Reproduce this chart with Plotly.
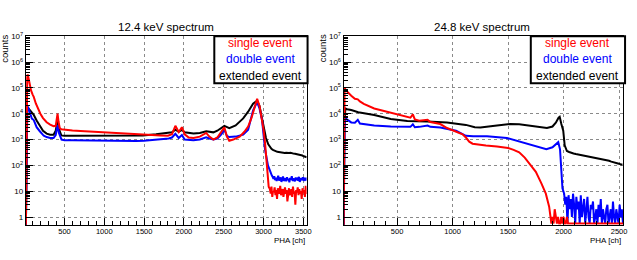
import plotly.graph_objects as go

W, H = 637, 260

# ---------------- data: 12.4 keV spectrum ----------------
ch12_single = [14, 20, 26, 32, 39, 50, 65, 80, 100, 114, 140, 170, 197, 230, 276, 320, 363, 390, 400,
               413, 425, 440, 460, 500, 600, 700, 800, 900, 1000, 1100, 1200, 1300, 1400, 1500, 1600,
               1700, 1800, 1850, 1893, 1935, 1975, 2010, 2060, 2120, 2200, 2280, 2320, 2370, 2420, 2470,
               2508, 2540, 2570, 2620, 2700, 2760, 2807, 2850, 2890, 2920, 2950, 2980, 3000, 3020, 3035,
               3050, 3065]
v12_single = [0.2, 500, 5e4, 2.5e5, 3.3e5, 2.2e5, 1.2e5, 8e4, 5.5e4, 4.5e4, 2.5e4, 1.4e4, 1e4, 6.8e3, 4.7e3,
              3.8e3, 3.3e3, 3.4e3, 5e3, 1e4, 5e3, 2.8e3, 2.5e3, 2.4e3, 2.25e3, 2.15e3, 2.05e3, 2e3, 1.95e3,
              1.85e3, 1.75e3, 1.65e3, 1.6e3, 1.55e3, 1.5e3, 1.45e3, 1.4e3, 1.6e3, 3.4e3, 1.95e3, 3e3, 1.6e3,
              1.2e3, 1.15e3, 1.3e3, 1.8e3, 1.3e3, 1e3, 1.2e3, 2e3, 3e3, 1.3e3, 890, 1e3, 1.3e3, 2e3, 3.2e3,
              7e3, 2e4, 3.8e4, 2e4, 7e3, 2.5e3, 700, 180, 35, 15]
tail12_single = [12, 8, 15, 6, 10, 9, 14, 7, 11, 5, 13, 9, 8, 16, 7, 10, 12, 6, 9, 14, 8, 11, 4, 10,
                 13, 7, 9, 12, 6, 15, 8, 10, 3, 11, 9, 14, 7, 12, 8, 10, 5, 13, 9, 11, 6, 16, 8, 10]

ch12_double = [14, 20, 26, 32, 40, 50, 70, 90, 114, 150, 190, 240, 276, 320, 363, 390, 413, 430, 463, 500,
               600, 700, 800, 900, 1000, 1100, 1200, 1300, 1400, 1500, 1600, 1700, 1810, 1850, 1893, 1935,
               1975, 2010, 2060, 2120, 2200, 2280, 2320, 2370, 2420, 2470, 2508, 2540, 2570, 2650, 2745,
               2807, 2869, 2919, 2950, 2982, 3019, 3040, 3056]
v12_double = [0.2, 200, 3e3, 1.5e4, 1.9e4, 1.5e4, 9e3, 6.5e3, 5.7e3, 3e3, 2.1e3, 1.4e3, 1.25e3, 1.15e3,
              1.15e3, 1.5e3, 3.7e3, 1.8e3, 1e3, 950, 930, 920, 910, 900, 910, 900, 890, 880, 880, 900, 950,
              1e3, 1.1e3, 1.2e3, 1.66e3, 1.15e3, 1.5e3, 1e3, 960, 950, 1e3, 1.23e3, 1.1e3, 1e3, 1.1e3, 1.6e3,
              2.4e3, 1.4e3, 1.25e3, 1.3e3, 1.55e3, 2.4e3, 1.35e4, 2.8e4, 1.6e4, 5.7e3, 420, 180, 100]
tail12_double = [70, 55, 45, 40, 36, 30, 38, 27, 33, 25, 31, 40, 26, 29, 34, 23, 30, 37, 25, 28, 32,
                 24, 35, 27, 30, 22, 33, 28, 38, 25, 29, 31, 24, 34, 27, 30, 26, 36, 23, 29, 32, 27,
                 35, 25, 30, 28, 33, 26]

ch12_ext = [14, 20, 26, 32, 42, 55, 75, 95, 114, 150, 189, 230, 276, 320, 363, 390, 413, 430, 460, 500,
            600, 800, 1000, 1200, 1485, 1650, 1810, 1850, 1893, 1935, 1975, 2010, 2121, 2200, 2280, 2370,
            2420, 2470, 2508, 2570, 2650, 2745, 2807, 2869, 2919, 2950, 2994, 3031, 3060]
v12_ext = [0.2, 150, 2e3, 1.2e4, 1.7e4, 1.5e4, 1.2e4, 1e4, 9e3, 5.5e3, 3.3e3, 2.2e3, 1.7e3, 1.55e3, 1.55e3,
           2.2e3, 5.7e3, 2.6e3, 1.45e3, 1.4e3, 1.4e3, 1.4e3, 1.4e3, 1.4e3, 1.45e3, 1.6e3, 1.8e3, 1.9e3,
           2.4e3, 2e3, 2.35e3, 1.9e3, 1.7e3, 1.8e3, 2.1e3, 1.9e3, 2.2e3, 2.8e3, 3.4e3, 2.75e3, 3.5e3, 6.6e3,
           1.2e4, 2.45e4, 3.2e4, 2e4, 4.3e3, 1.15e3, 650]
tail12_ext = [490, 440, 400, 370, 350, 335, 330, 320, 310, 315, 300, 305, 295, 300, 310, 290, 285, 280,
              275, 270, 265, 255, 240, 225, 215, 205]

# ---------------- data: 24.8 keV spectrum ----------------
ch24_single = [18, 22, 27, 40, 60, 87, 120, 146, 165, 200, 294, 443, 592, 620, 642, 660, 700, 775, 800,
               889, 950, 1000, 1050, 1090, 1120, 1150, 1180, 1250, 1300, 1400, 1500, 1550, 1600, 1650,
               1700, 1750, 1800, 1840, 1870]
v24_single = [0.2, 5e3, 1e5, 8e4, 6.3e4, 5e4, 3.8e4, 3.6e4, 3e4, 2.4e4, 1.6e4, 1.1e4, 7.5e3, 7e3, 9.5e3,
              6e3, 5.4e3, 5.8e3, 4.8e3, 4e3, 2.8e3, 2.25e3, 1.85e3, 1.6e3, 1.2e3, 830, 690, 620, 590, 540,
              470, 400, 320, 200, 110, 56, 20, 8, 2.5]
tail24_single = [1, 0, 1, 0, 2, 1, 0, 1, 0, 0, 1, 0, 1, 0, 0, 1, 0, 0, 0, 0, 0, 0, 0, 0, 0, 0, 0, 0,
                 0, 0, 0, 0, 0, 0, 0, 0, 0, 0, 0, 0, 0, 0, 0, 0, 0, 0, 0, 0, 0, 0, 0, 0, 0, 0, 0, 0,
                 0, 0, 0, 0, 0, 0, 0, 0, 0, 0, 0]

ch24_double = [18, 22, 27, 34, 50, 87, 120, 146, 165, 294, 443, 592, 620, 642, 660, 700, 775, 800, 889,
               1031, 1120, 1186, 1310, 1489, 1637, 1786, 1845, 1900, 1930, 1952, 1968, 1979, 1990]
v24_double = [0.2, 300, 3e3, 6.6e3, 6e3, 4.6e3, 4.5e3, 5.8e3, 4.2e3, 3.5e3, 3.2e3, 3e3, 3.1e3, 3.9e3,
              3e3, 3.1e3, 3.5e3, 3.1e3, 2.95e3, 2.2e3, 1.4e3, 1.35e3, 1.35e3, 1.15e3, 760, 490, 420, 500,
              640, 790, 420, 100, 13]
tail24_double = [8, 3, 6, 0, 7, 2, 5, 1, 8, 3, 0, 6, 2, 4, 0, 7, 1, 3, 5, 0, 2, 6, 1, 0, 3, 2, 4, 0,
                 1, 2, 0, 3, 1, 5, 0, 2, 1, 0, 2, 3, 0, 1, 2, 0, 4, 1, 0, 2, 1, 0, 3, 1, 2, 0]

ch24_ext = [18, 22, 27, 34, 50, 87, 150, 294, 443, 592, 642, 770, 950, 1120, 1200, 1251, 1400, 1519,
            1600, 1700, 1800, 1850, 1900, 1930, 1955, 1965, 1980, 1997, 2010]
v24_ext = [0.2, 300, 5e3, 1.6e4, 1.5e4, 1.4e4, 1.15e4, 8.9e3, 6.3e3, 5.2e3, 5.2e3, 5e3, 4.6e3, 3.7e3,
           3e3, 2.95e3, 3.5e3, 4e3, 3.9e3, 3.5e3, 2.95e3, 2.8e3, 3.2e3, 4.5e3, 7e3, 7.6e3, 4e3, 2.2e3, 600]
tail24_ext = [360, 330, 300, 290, 275, 265, 250, 245, 235, 225, 220, 212, 205, 195, 185, 180, 170,
              165, 160, 150, 140, 135, 125, 118, 112, 105]

RED, BLUE, BLACK = "#ff0000", "#0000ff", "#000000"
FLOOR = 0.56  # zero-count bins are drawn at the bottom of the frame (as ROOT does)


def with_tail(chs, vals, start, step, tail):
    xs = list(chs) + [start + step * i for i in range(len(tail))]
    ys = list(vals) + [t if t > 0 else FLOOR for t in tail]
    return xs, ys


def px(x):
    return x / W


def py(y):
    return 1 - y / H


fig = go.Figure()

panels = [
    ("x", "y", [(ch12_ext, v12_ext, 3081, 18.5, tail12_ext, BLACK),
                (ch12_double, v12_double, 3075, 10, tail12_double, BLUE),
                (ch12_single, v12_single, 3080, 10, tail12_single, RED)]),
    ("x2", "y2", [(ch24_ext, v24_ext, 2030, 20, tail24_ext, BLACK),
                  (ch24_double, v24_double, 2005, 10, tail24_double, BLUE),
                  (ch24_single, v24_single, 1880, 10, tail24_single, RED)]),
]
for xa, ya, series in panels:
    for chs, vals, start, step, tail, col in series:
        xs, ys = with_tail(chs, vals, start, step, tail)
        fig.add_trace(go.Scatter(x=xs, y=ys, mode="lines", xaxis=xa, yaxis=ya,
                                 line=dict(color=col, width=2), showlegend=False,
                                 hoverinfo="skip"))

ytickvals = [1, 10, 100, 1e3, 1e4, 1e5, 1e6, 1e7]
yticktext = ["1", "10", "10<sup>2</sup>", "10<sup>3</sup>", "10<sup>4</sup>", "10<sup>5</sup>",
             "10<sup>6</sup>", "10<sup>7</sup>"]
yminor = [k * 10 ** d for d in range(0, 7) for k in range(2, 10)]

FONT = "Liberation Sans, Arial, Helvetica, sans-serif"
tickfont = dict(family=FONT, size=7.5, color="black")

common_y = dict(type="log", range=[-0.303, 7], tickmode="array", tickvals=ytickvals,
                ticktext=yticktext, ticks="inside", ticklen=7, tickcolor="black",
                showline=True, mirror=True, linecolor="black", linewidth=1,
                showgrid=True, gridcolor="#8a8a8a", griddash="dot", gridwidth=1,
                zeroline=False, tickfont=dict(tickfont, size=8),
                minor=dict(tickmode="array", tickvals=yminor, ticks="inside", ticklen=4,
                           tickcolor="black", showgrid=False),
                domain=[py(224), py(31)])
common_x = dict(ticks="inside", ticklen=7, tickcolor="black", tick0=0, dtick=500,
                showline=True, mirror=True, linecolor="black", linewidth=1,
                showgrid=True, gridcolor="#8a8a8a", griddash="dot", gridwidth=1,
                zeroline=False, tickfont=tickfont, ticklabelstandoff=-1,
                minor=dict(dtick=100, ticks="inside", ticklen=4, tickcolor="black", showgrid=False))

fig.update_layout(
    width=W, height=H, margin=dict(l=0, r=0, t=0, b=0),
    paper_bgcolor="white", plot_bgcolor="white",
    xaxis=dict(common_x, range=[14, 3541], domain=[px(26), px(309)], anchor="y"),
    yaxis=dict(common_y, anchor="x"),
    xaxis2=dict(common_x, range=[18, 2536], domain=[px(346.3), px(628)], anchor="y2"),
    yaxis2=dict(common_y, anchor="x2"),
)

titles = [("12.4 keV spectrum", 167), ("24.8 keV spectrum", 486)]
for txt, cx in titles:
    fig.add_annotation(text=txt, x=px(cx), y=py(21), xref="paper", yref="paper",
                       showarrow=False, xanchor="center", yanchor="middle",
                       font=dict(family=FONT, size=11.5, color="black"))

for xr in [309, 628]:
    fig.add_annotation(text="PHA [ch]", x=px(xr), y=py(240), xref="paper", yref="paper",
                       showarrow=False, xanchor="right", yanchor="middle",
                       font=dict(family=FONT, size=8, color="black"))
for xl in [4.5, 324.5]:
    fig.add_annotation(text="counts", x=px(xl), y=py(27), xref="paper", yref="paper",
                       showarrow=False, xanchor="center", yanchor="top", textangle=-90,
                       font=dict(family=FONT, size=9.5, color="black"))

legend_items = [("single event", RED, 38.3), ("double event", BLUE, 54.3),
                ("extended event", BLACK, 71.7)]
for x0, x1 in [(216, 310), (535, 630)]:
    fig.add_shape(type="rect", xref="paper", yref="paper", x0=px(x0), x1=px(x1),
                  y0=py(79), y1=py(31), line=dict(color="black", width=2), fillcolor="white",
                  layer="above")
    for txt, col, yy in legend_items:
        fig.add_annotation(text=txt, x=px((x0 + x1) / 2), y=py(yy), xref="paper", yref="paper",
                           showarrow=False, xanchor="center", yanchor="middle",
                           font=dict(family=FONT, size=12, color=col))

POST = ("document.body.style.margin='0';"
        "var gd=document.getElementById('{plot_id}');"
        "gd.style.position='fixed';gd.style.top='0px';gd.style.left='0px';")
fig.write_html("out.html", config={"displayModeBar": False}, post_script=POST)
